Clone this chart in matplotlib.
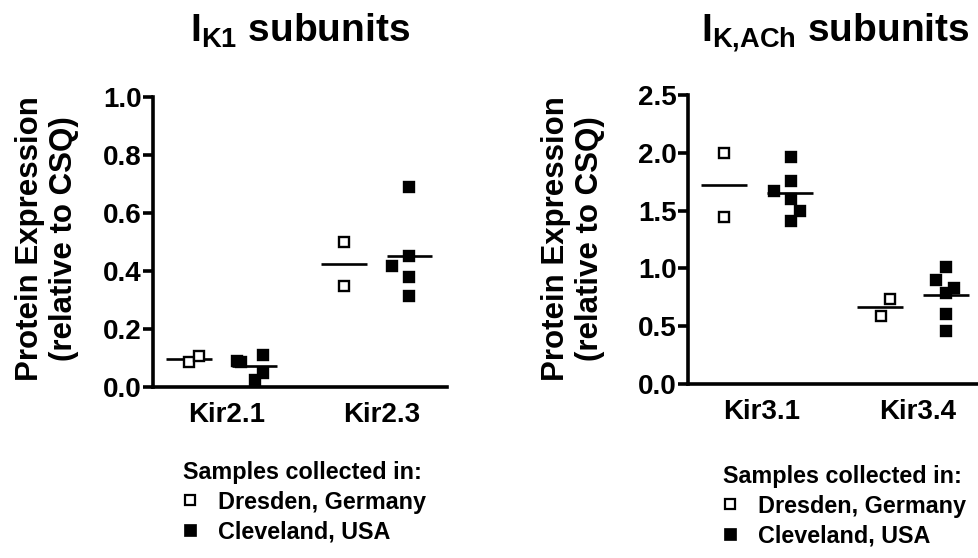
import numpy as np
import matplotlib
matplotlib.use('Agg')
from matplotlib import pyplot as plt
from matplotlib.lines import Line2D

plt.rcParams['font.family'] = ['Liberation Sans', 'DejaVu Sans']
plt.rcParams['font.weight'] = 'bold'
plt.rcParams['mathtext.fontset'] = 'custom'
plt.rcParams['mathtext.bf'] = 'Liberation Sans:bold'
plt.rcParams['mathtext.rm'] = 'Liberation Sans:bold'

# I_K1 panel
ik1_cats = ['Kir2.1', 'Kir2.3']
ik1_dresden = [[0.086, 0.107], [0.50, 0.348]]
ik1_cleveland = [[0.09, 0.085, 0.11, 0.05, 0.025], [0.69, 0.452, 0.417, 0.38, 0.314]]

# I_K,ACh panel
ikach_cats = ['Kir3.1', 'Kir3.4']
ikach_dresden = [[2.0, 1.445], [0.59, 0.735]]
ikach_cleveland = [[1.965, 1.76, 1.67, 1.60, 1.497, 1.41], [1.01, 0.90, 0.83, 0.79, 0.606, 0.46]]

# horizontal scatter of overlapping points (data units)
ik1_dres_jit = [[0, 0.065], [0, 0]]
ik1_clev_jit = [[-0.11, -0.085, 0.055, 0.055, 0], [0, 0, -0.11, 0, 0]]
ikach_dres_jit = [[0, 0], [0.005, 0.065]]
ikach_clev_jit = [[0.01, 0.01, -0.1, 0.01, 0.065, 0.01], [0, -0.06, 0.05, 0, 0, 0]]

W, H = 979, 558
fig = plt.figure(figsize=(W / 100, H / 100), dpi=100)


def box(x0, y0, x1, y1):
    # pixel box (top-left origin) -> figure fraction
    return [x0 / W, 1 - y1 / H, (x1 - x0) / W, (y1 - y0) / H]


def panel(ax, cats, dres, clev, dres_jit, clev_jit, ymax, ystep, xlim):
    off = 0.21
    half = 0.148
    for i in range(len(cats)):
        for vals, jit, o, face in ((dres[i], dres_jit[i], -off, 'white'),
                                   (clev[i], clev_jit[i], off, 'black')):
            xs = i + o + np.array(jit)
            ax.plot(xs, vals, 's', ms=7.8, mfc=face, mec='black', mew=1.7,
                    ls='none', clip_on=False, zorder=3)
            ax.hlines(np.mean(vals), i + o - half, i + o + half,
                      color='black', lw=1.9, zorder=2)
    ax.set_xlim(*xlim)
    ax.set_ylim(0, ymax)
    yt = np.arange(0, ymax + 1e-9, ystep)
    ax.set_yticks(yt)
    ax.set_yticklabels(['%.1f' % v for v in yt], fontsize=20, fontweight='bold')
    ax.set_xticks([0.03, 1.03])
    ax.set_xticklabels(cats, fontsize=20, fontweight='bold')
    ax.spines['right'].set_visible(False)
    ax.spines['top'].set_visible(False)
    ax.spines['left'].set_linewidth(2.6)
    ax.spines['bottom'].set_linewidth(2.6)
    ax.tick_params(axis='y', length=7, width=2.6, pad=1)
    ax.tick_params(axis='x', length=0, pad=11)


axL = fig.add_axes(box(153, 97, 447, 387))
panel(axL, ik1_cats, ik1_dresden, ik1_cleveland, ik1_dres_jit, ik1_clev_jit,
      1.0, 0.2, (-0.445, 1.452))

axR = fig.add_axes(box(688, 95, 979, 384))
panel(axR, ikach_cats, ikach_dresden, ikach_cleveland, ikach_dres_jit, ikach_clev_jit,
      2.5, 0.5, (-0.442, 1.423))

ylab = 'Protein Expression\n(relative to CSQ)'
fig.text(47 / W, 1 - 239 / H, ylab, rotation=90, ha='center', va='center',
         multialignment='center', fontsize=22.5, fontweight='bold')
fig.text(573 / W, 1 - 239 / H, ylab, rotation=90, ha='center', va='center',
         multialignment='center', fontsize=22.5, fontweight='bold')

fig.text(300 / W, 1 - 42 / H, r'$\mathbf{I}_{\mathbf{K1}}$ subunits',
         ha='center', va='baseline', fontsize=28, fontweight='bold')
fig.text(835 / W, 1 - 42 / H, r'$\mathbf{I}_{\mathbf{K{,}ACh}}$ subunits',
         ha='center', va='baseline', fontsize=28, fontweight='bold')

handles = [Line2D([], [], marker='s', ls='none', ms=7, mfc='white', mec='black', mew=1.6),
           Line2D([], [], marker='s', ls='none', ms=8.5, mfc='black', mec='black', mew=0.5)]
labels = ['Dresden, Germany', 'Cleveland, USA']
for x0, y0 in ((183, 461), (723, 465)):
    fig.legend(handles, labels, title='Samples collected in:', loc='upper left',
               bbox_to_anchor=(x0 / W, 1 - y0 / H), frameon=False, alignment='left',
               prop={'size': 16.8, 'weight': 'bold'},
               title_fontproperties={'size': 16.8, 'weight': 'bold'},
               borderpad=0, borderaxespad=0, handlelength=0.6, handletextpad=0.9,
               labelspacing=0.28)

fig.savefig('out.png', dpi=100)
